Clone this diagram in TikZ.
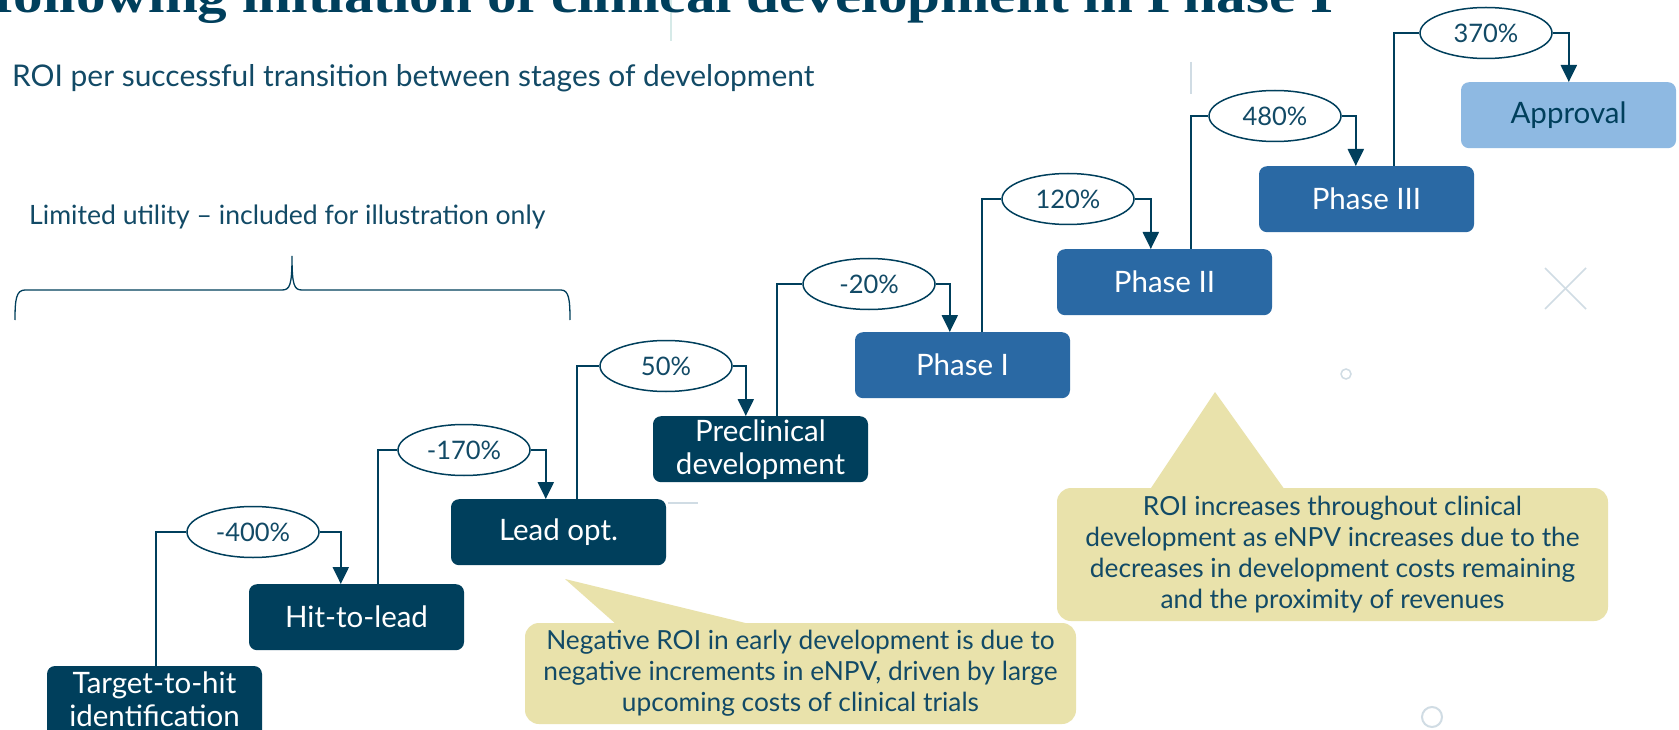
\documentclass[tikz,border=0pt]{standalone}
\usepackage{fontspec}
\setmainfont{Lato}
\newfontfamily\titlefont{Liberation Serif}
\usetikzlibrary{arrows.meta,shapes.geometric,calc}
\definecolor{navy}{RGB}{0,63,92}
\definecolor{midblue}{RGB}{42,105,164}
\definecolor{lightblue}{RGB}{142,185,226}
\definecolor{txtnavy}{RGB}{18,74,102}
\definecolor{callcol}{RGB}{233,226,171}
\definecolor{decocol}{RGB}{208,220,228}
\definecolor{decoteal}{RGB}{214,234,232}
\tikzset{
  stagebox/.style={rounded corners=8pt, minimum width=215pt, minimum height=66pt, inner sep=0pt, align=center, text=white, font=\fontsize{29.5}{33}\selectfont},
  darkbox/.style={stagebox, fill=navy},
  phasebox/.style={stagebox, fill=midblue},
  apprbox/.style={stagebox, fill=lightblue, text=navy},
  roi/.style={ellipse, draw=navy, line width=1.5pt, fill=white, minimum width=132pt, minimum height=51pt, inner sep=0pt, text=txtnavy, font=\fontsize{25.5}{25}\selectfont},
  conn/.style={draw=navy, line width=2.2pt},
  connarr/.style={conn, -{Triangle[width=16pt,length=17pt]}},
  callout/.style={fill=callcol, rounded corners=14pt, inner sep=0pt, align=center, text=txtnavy, font=\fontsize{26.3}{31}\selectfont},
  deco/.style={draw=decocol, line width=1.6pt}
}
\begin{document}
\begin{tikzpicture}[x=1pt,y=-1pt]
\clip (0,0) rectangle (1679,730);
\fill[white] (0,0) rectangle (1679,730);

% decorations
\draw[draw=decoteal, line width=1.5pt] (671,0) -- (671,41);
\draw[deco, line width=1.3pt] (1191,62) -- (1191,94);
\draw[deco, line width=2pt] (668,503) -- (698,503);
\draw[deco] (1545,268) -- (1586,309);
\draw[deco] (1545,309) -- (1586,268);
\draw[deco, line width=1.5pt] (1346,374) circle[radius=5pt];
\draw[deco, line width=2pt] (1432,717) circle[radius=10pt];

% title (cropped at the top edge, as in the reference)
\node[anchor=base west, inner sep=0pt, text=navy] (title) at (-6,13)
  {\titlefont\bfseries\fontsize{50}{50}\selectfont\scalebox{1.183}[1]{following initiation of clinical development in Phase I}};

\node[anchor=west, inner sep=0pt, text=txtnavy, font=\fontsize{29.9}{32}\selectfont] (sub) at (12,78)
  {ROI per successful transition between stages of development};

\node[anchor=west, inner sep=0pt, text=txtnavy, font=\fontsize{26.6}{29}\selectfont] (lim) at (29,217)
  {Limited utility -- included for illustration only};

% brace
\draw[navy, line width=1.3pt] (15,320) .. controls (15,300) and (16,290) .. (25,290) -- (282,290)
  .. controls (290,290) and (292,285) .. (292,256)
  .. controls (292,285) and (294,290) .. (302,290) -- (561,290)
  .. controls (569,290) and (570,300) .. (570,320);

% stage boxes
\fill[navy, rounded corners=8pt] (47,666) rectangle (262,770);
\node[stagebox, anchor=north] (b0) at (154.5,666) {Target-to-hit\\identification};
\node[darkbox, anchor=north] (b1) at (356.5,584) {Hit-to-lead};
\node[darkbox, anchor=north] (b2) at (558.5,499) {Lead opt.};
\node[darkbox, anchor=north] (b3) at (760.5,416) {Preclinical\\development};
\node[phasebox, anchor=north] (b4) at (962.5,332) {Phase I};
\node[phasebox, anchor=north] (b5) at (1164.5,249) {Phase II};
\node[phasebox, anchor=north] (b6) at (1366.5,166) {Phase III};
\node[apprbox, anchor=north] (b7) at (1568.5,82) {Approval};

% ROI ellipses
\node[roi] (e1) at (253,532) {-400\%};
\node[roi] (e2) at (464,450) {-170\%};
\node[roi] (e3) at (666,366) {50\%};
\node[roi] (e4) at (869,284) {-20\%};
\node[roi] (e5) at (1068,199) {120\%};
\node[roi] (e6) at (1275,116) {480\%};
\node[roi] (e7) at (1486,33) {370\%};

% connectors
\draw[conn] ($(b0.north west)+(109,0)$) |- (e1.west);
\draw[connarr] (e1.east) -| ($(b1.north west)+(92,0)$);
\draw[conn] ($(b1.north west)+(129,0)$) |- (e2.west);
\draw[connarr] (e2.east) -| ($(b2.north west)+(95,0)$);
\draw[conn] ($(b2.north west)+(126,0)$) |- (e3.west);
\draw[connarr] (e3.east) -| ($(b3.north west)+(93,0)$);
\draw[conn] ($(b3.north west)+(124,0)$) |- (e4.west);
\draw[connarr] (e4.east) -| ($(b4.north west)+(95,0)$);
\draw[conn] ($(b4.north west)+(127,0)$) |- (e5.west);
\draw[connarr] (e5.east) -| ($(b5.north west)+(94,0)$);
\draw[conn] ($(b5.north west)+(134,0)$) |- (e6.west);
\draw[connarr] (e6.east) -| ($(b6.north west)+(97,0)$);
\draw[conn] ($(b6.north west)+(135,0)$) |- (e7.west);
\draw[connarr] (e7.east) -| ($(b7.north west)+(108,0)$);

% callouts
\node[callout, minimum width=551pt, minimum height=101pt] (c1) at (800.5,673.5)
  {Negative ROI in early development is due to\\negative increments in eNPV, driven by large\\upcoming costs of clinical trials};
\coordinate (c1tip) at (565,579);
\fill[callcol] (c1tip) -- ($(c1.north west)+(92,2)$) -- ($(c1.north west)+(228,2)$) -- cycle;

\node[callout, minimum width=551pt, minimum height=133pt] (c2) at (1332.5,554.5)
  {ROI increases throughout clinical\\development as eNPV increases due to the\\decreases in development costs remaining\\and the proximity of revenues};
\coordinate (c2tip) at (1215,392);
\fill[callcol] (c2tip) -- ($(c2.north west)+(93,2)$) -- ($(c2.north west)+(228,2)$) -- cycle;
\end{tikzpicture}
\end{document}
